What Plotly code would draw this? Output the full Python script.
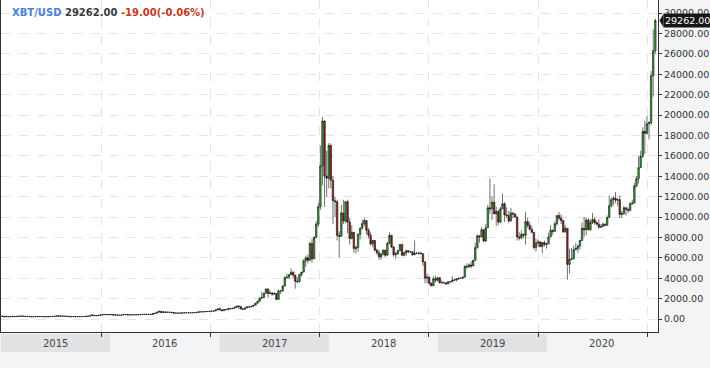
import plotly.graph_objects as go
import pandas as pd

# Weekly candles (open, high, low, close), weeks starting 2014-12-29
ohlc_2015 = [
    (320, 335, 265, 274), (274, 300, 265, 268), (268, 270, 170, 210), (210, 310, 205, 255),
    (255, 270, 210, 225), (225, 245, 212, 225), (225, 265, 218, 257), (257, 260, 230, 245),
    (245, 265, 235, 260), (260, 295, 255, 275), (275, 298, 270, 285), (285, 290, 255, 265),
    (265, 270, 235, 250), (250, 262, 240, 255), (255, 258, 230, 236), (236, 238, 215, 222),
    (222, 236, 218, 226), (226, 245, 220, 240), (240, 246, 232, 240), (240, 245, 230, 237),
    (237, 242, 232, 240), (240, 242, 225, 230), (230, 232, 218, 225), (225, 236, 222, 233),
    (233, 253, 230, 245), (245, 252, 240, 250), (250, 272, 248, 270), (270, 315, 265, 310),
    (310, 316, 270, 275), (275, 292, 272, 290), (290, 297, 276, 280), (280, 285, 260, 265),
    (265, 272, 258, 260), (260, 262, 200, 230), (230, 235, 210, 229), (229, 242, 226, 240),
    (240, 244, 228, 230), (230, 235, 225, 232), (232, 238, 228, 234), (234, 241, 233, 238),
    (238, 248, 235, 246), (246, 265, 245, 262), (262, 290, 260, 285), (285, 335, 283, 325),
    (325, 495, 325, 385), (385, 390, 305, 333), (333, 340, 315, 322), (322, 375, 318, 370),
    (370, 410, 355, 390), (390, 450, 385, 435), (435, 470, 425, 440), (440, 458, 410, 420),
    (420, 440, 415, 430),
]
ohlc_2016 = [
    (430, 458, 425, 448), (448, 455, 365, 385), (385, 410, 375, 400), (400, 405, 370, 378),
    (378, 392, 365, 375), (375, 405, 370, 400), (400, 445, 398, 440), (440, 442, 410, 430),
    (430, 438, 395, 400), (400, 418, 398, 414), (414, 420, 405, 410), (410, 420, 405, 417),
    (417, 424, 412, 418), (418, 424, 415, 420), (420, 432, 418, 430), (430, 462, 428, 458),
    (458, 468, 440, 450), (450, 462, 442, 458), (458, 462, 446, 457), (457, 458, 437, 440),
    (440, 535, 438, 530), (530, 585, 525, 575), (575, 695, 570, 670), (670, 780, 665, 760),
    (760, 765, 560, 630), (630, 705, 605, 700), (700, 705, 630, 650), (650, 675, 645, 665),
    (665, 680, 650, 660), (660, 662, 615, 625), (625, 630, 480, 590), (590, 598, 575, 585),
    (585, 590, 570, 580), (580, 585, 565, 575), (575, 612, 570, 610), (610, 630, 600, 608),
    (608, 615, 602, 610), (610, 612, 596, 603), (603, 618, 600, 615), (615, 622, 608, 618),
    (618, 642, 615, 640), (640, 660, 635, 655), (655, 720, 650, 700), (700, 740, 680, 705),
    (705, 725, 700, 705), (705, 755, 700, 730), (730, 745, 725, 735), (735, 770, 730, 765),
    (765, 775, 755, 770), (770, 795, 765, 790), (790, 905, 790, 890), (890, 1000, 885, 995),
]
ohlc_2017 = [
    (995, 1150, 880, 900), (900, 910, 750, 820), (820, 930, 815, 920), (920, 930, 880, 918),
    (918, 1030, 915, 1020), (1020, 1075, 950, 1000), (1000, 1060, 990, 1050), (1050, 1180, 1045, 1150),
    (1150, 1290, 1140, 1265), (1265, 1330, 980, 1230), (1230, 1260, 950, 970), (970, 1060, 890, 965),
    (965, 1100, 930, 1090), (1090, 1210, 1080, 1190), (1190, 1210, 1150, 1180), (1180, 1250, 1170, 1240),
    (1240, 1360, 1230, 1350), (1350, 1600, 1340, 1550), (1550, 1800, 1540, 1750), (1750, 2100, 1700, 2050),
    (2050, 2700, 1950, 2100), (2100, 2580, 2050, 2520), (2520, 2990, 2500, 2950), (2950, 2980, 2100, 2500),
    (2500, 2780, 2450, 2550), (2550, 2600, 2300, 2430), (2430, 2650, 2420, 2500), (2500, 2550, 1850, 1920),
    (1920, 2900, 1900, 2750), (2750, 2800, 2450, 2750), (2750, 3300, 2650, 3230), (3230, 4200, 3200, 4050),
    (4050, 4450, 3950, 4100), (4100, 4400, 3900, 4350), (4350, 4950, 4300, 4580), (4580, 4700, 4000, 4300),
    (4300, 4350, 2970, 3700), (3700, 4100, 3500, 3650), (3650, 4400, 3600, 4370), (4370, 4620, 4150, 4600),
    (4600, 5850, 4600, 5700), (5700, 6200, 5100, 6000), (6000, 6300, 5450, 5750), (5750, 7600, 5750, 7400),
    (7400, 7850, 5500, 5900), (5900, 8100, 5850, 8000), (8000, 9600, 7950, 9300), (9300, 11400, 9000, 11000),
    (11000, 17000, 10700, 15000), (15000, 19800, 13100, 19400), (19400, 19500, 11000, 14000),
    (14000, 16500, 12000, 13800),
]
ohlc_2018 = [
    (13800, 17250, 12800, 17000), (17000, 17200, 12800, 13600), (13600, 14000, 9300, 11600),
    (11600, 12000, 10000, 11500), (11500, 11700, 7700, 8200), (8200, 8600, 6000, 8100),
    (8100, 11200, 8100, 10400), (10400, 11700, 9300, 9600), (9600, 11500, 9400, 11500),
    (11500, 11700, 8400, 9500), (9500, 9900, 7300, 7900), (7900, 9200, 7800, 8500),
    (8500, 8500, 6500, 6900), (6900, 7200, 6400, 7000), (7000, 8400, 6600, 8300),
    (8300, 9000, 7800, 8900), (8900, 9750, 8800, 9350), (9350, 9900, 9100, 9650),
    (9650, 9700, 8300, 8700), (8700, 8900, 7900, 8200), (8200, 8500, 7200, 7350),
    (7350, 7750, 7050, 7700), (7700, 7750, 6650, 6750), (6750, 6900, 6300, 6500),
    (6500, 6800, 5800, 6100), (6100, 6500, 5800, 6350), (6350, 6800, 6250, 6750),
    (6750, 6800, 6100, 6250), (6250, 7600, 6250, 7400), (7400, 8500, 7400, 8200),
    (8200, 8250, 6950, 7050), (7050, 7150, 6100, 6300), (6300, 6600, 5900, 6400),
    (6400, 6800, 6300, 6700), (6700, 7300, 6700, 7300), (7300, 7400, 6200, 6250),
    (6250, 6600, 6150, 6500), (6500, 6800, 6200, 6700), (6700, 6700, 6450, 6600),
    (6600, 6650, 6500, 6600), (6600, 6650, 6200, 6300), (6300, 7700, 6300, 6450),
    (6450, 6550, 6400, 6450), (6450, 6500, 6300, 6450), (6450, 6600, 6350, 6400),
    (6400, 6450, 5200, 5600), (5600, 5650, 3500, 4000), (4000, 4400, 3500, 4100),
    (4100, 4200, 3300, 3500), (3500, 3600, 3200, 3250), (3250, 4200, 3250, 3950),
    (3950, 4250, 3600, 3800), (3800, 4100, 3650, 4050),
]
ohlc_2019 = [
    (4050, 4100, 3500, 3550), (3550, 3800, 3500, 3550), (3550, 3650, 3500, 3550), (3550, 3550, 3350, 3450),
    (3450, 3700, 3400, 3650), (3650, 3700, 3550, 3650), (3650, 4200, 3650, 3800), (3800, 3900, 3750, 3820),
    (3820, 3950, 3700, 3930), (3930, 4020, 3850, 4000), (4000, 4050, 3950, 4000), (4000, 4150, 3950, 4100),
    (4100, 5300, 4100, 5150), (5150, 5450, 4950, 5100), (5100, 5450, 5050, 5300), (5300, 5650, 5000, 5200),
    (5200, 5800, 5200, 5750), (5750, 7500, 5700, 7000), (7000, 8300, 6900, 8150), (8150, 8200, 7500, 8050),
    (8050, 9000, 8000, 8750), (8750, 8800, 7500, 7650), (7650, 9300, 7550, 8950), (8950, 11200, 8950, 10900),
    (10900, 13800, 10300, 10800), (10800, 12000, 9700, 11450), (11450, 13200, 10400, 10300),
    (10300, 11000, 9100, 10550), (10550, 10700, 9200, 9500), (9500, 11000, 9400, 10800),
    (10800, 12300, 10800, 11300), (11300, 11450, 9500, 10200), (10200, 10950, 9900, 10150),
    (10150, 10600, 9400, 9600), (9600, 10900, 9600, 10400), (10400, 10450, 9900, 10300),
    (10300, 10350, 9900, 10000), (10000, 10050, 7700, 8050), (8050, 8500, 7700, 7950),
    (7950, 8700, 7800, 8300), (8300, 8400, 7900, 8200), (8200, 10500, 7300, 9550),
    (9550, 9900, 8950, 9200), (9200, 9500, 8700, 8800), (8800, 9100, 8400, 8500),
    (8500, 8500, 6800, 7000), (7000, 7900, 6600, 7450), (7450, 7750, 7100, 7550),
    (7550, 7650, 7050, 7100), (7100, 7500, 6450, 7500), (7500, 7700, 7100, 7300),
    (7300, 7500, 6900, 7350),
]
ohlc_2020 = [
    (7350, 8450, 7350, 8050), (8050, 9200, 8050, 8700), (8700, 8750, 8250, 8600), (8600, 9550, 8550, 9350),
    (9350, 10150, 9150, 10150), (10150, 10500, 9700, 9900), (9900, 10250, 9300, 9650), (9650, 9700, 8450, 8550),
    (8550, 9200, 8450, 8900), (8900, 8900, 3850, 5350), (5350, 6900, 4450, 5850), (5850, 6950, 5800, 5900),
    (5900, 7200, 5850, 6800), (6800, 7450, 6800, 6900), (6900, 7300, 6500, 7150), (7150, 7750, 6800, 7700),
    (7700, 9450, 7650, 8900), (8900, 10000, 8100, 8750), (8750, 9950, 8200, 9700), (9700, 9900, 8700, 8750),
    (8750, 9750, 8650, 9450), (9450, 10400, 9300, 9750), (9750, 10000, 9250, 9450), (9450, 9600, 9200, 9300),
    (9300, 9800, 8850, 9000), (9000, 9300, 8950, 9050), (9050, 9450, 9050, 9300), (9300, 9350, 9100, 9200),
    (9200, 10150, 9150, 9950), (9950, 12100, 9950, 11100), (11100, 11900, 10950, 11700),
    (11700, 12050, 11150, 11850), (11850, 12450, 11350, 11650), (11650, 11800, 11100, 11700),
    (11700, 12100, 9900, 10250), (10250, 10600, 9900, 10350), (10350, 11100, 10200, 10900),
    (10900, 10950, 10150, 10750), (10750, 10950, 10400, 10650), (10650, 11500, 10550, 11300),
    (11300, 11700, 11200, 11350), (11350, 13350, 11350, 13050), (13050, 14000, 12900, 13750),
    (13750, 15950, 13300, 14850), (14850, 16500, 14800, 15950), (15950, 18800, 15800, 18400),
    (18400, 19450, 16200, 18200), (18200, 19900, 18100, 19150), (19150, 19400, 17600, 19250),
    (19250, 24300, 19000, 23850), (23850, 28400, 21800, 26300), (26300, 29450, 26000, 29262),
]

first_week = "2014-12-29"
years = ["2015", "2016", "2017", "2018", "2019", "2020"]
grid_dates = ["2015-12-04", "2016-12-03", "2017-12-02", "2018-12-01", "2019-12-02", "2020-12-01"]
y_ticks = list(range(0, 30001, 2000))
y_ticktext = ["%.2f" % v for v in y_ticks]
last_price = 29262.00
title_symbol = "XBT/USD"
title_price = "29262.00"
title_change = "-19.00(-0.06%)"

rows = ohlc_2015 + ohlc_2016 + ohlc_2017 + ohlc_2018 + ohlc_2019 + ohlc_2020
opens = [r[0] for r in rows]
highs = [r[1] for r in rows]
lows = [r[2] for r in rows]
closes = [r[3] for r in rows]
dates = pd.date_range(first_week, periods=len(rows), freq="7D")

x_start = pd.Timestamp("2015-01-01")
x_end = pd.Timestamp("2021-01-06")
span = (x_end - x_start).total_seconds()


def frac(d):
    return (pd.Timestamp(d) - x_start).total_seconds() / span


fig = go.Figure(go.Candlestick(
    x=dates, open=opens, high=highs, low=lows, close=closes,
    increasing=dict(line=dict(color="#111111", width=0.6), fillcolor="#2bb02b"),
    decreasing=dict(line=dict(color="#111111", width=0.6), fillcolor="#a81e1e"),
    whiskerwidth=0, hoverinfo="skip",
))

W, H = 710, 368
ml, mr, mt, mb = 1, 52, 0, 36
plot_w = W - ml - mr
plot_h = H - mt - mb

shapes = []
annotations = []
for i, yr in enumerate(years):
    x0 = max(0.0, frac(f"{yr}-01-01"))
    x1 = min(1.0, frac(f"{int(yr) + 1}-01-01"))
    if i % 2 == 0:
        shapes.append(dict(type="rect", xref="paper", yref="paper", x0=x0, x1=x1,
                           y0=-2 / plot_h, y1=-20 / plot_h, fillcolor="#e1e2e4",
                           line=dict(width=0), layer="below"))
    annotations.append(dict(xref="paper", yref="paper", x=(x0 + x1) / 2, y=-11 / plot_h,
                            text=yr, showarrow=False, xanchor="center", yanchor="middle",
                            font=dict(family="DejaVu Sans", size=10, color="#444444")))

# last price label
annotations.append(dict(xref="paper", yref="y", x=1, y=last_price, xanchor="left", yanchor="middle",
                        xshift=5, text=f"{last_price:.2f}", showarrow=False,
                        bgcolor="#161616", borderpad=1,
                        font=dict(family="DejaVu Sans", size=9.5, color="white")))
px = 1 / plot_w
shapes.append(dict(type="path", xref="paper", yref="y",
                   path=f"M {1 + 1.5 * px},{last_price} L {1 + 5.5 * px},{last_price + 650} "
                        f"L {1 + 5.5 * px},{last_price - 650} Z",
                   fillcolor="#161616", line=dict(width=0)))

annotations.append(dict(
    xref="paper", yref="paper", x=0, y=1, xanchor="left", yanchor="middle", xshift=9, yshift=-12,
    showarrow=False,
    text=(f"<b><span style='color:#4a7fd6'>{title_symbol}</span> "
          f"<span style='color:#3a3a3a'>{title_price}</span> "
          f"<span style='color:#c63a1e'>{title_change}</span></b>"),
    font=dict(family="DejaVu Sans", size=10),
))

fig.update_layout(
    width=W, height=H,
    margin=dict(l=ml, r=mr, t=mt, b=mb, autoexpand=False),
    paper_bgcolor="#f3f4f6", plot_bgcolor="white",
    showlegend=False, hovermode=False, boxgap=0,
    shapes=shapes, annotations=annotations,
    xaxis=dict(
        type="date", range=[x_start, x_end], rangeslider=dict(visible=False),
        tickvals=grid_dates, showticklabels=False,
        showgrid=True, gridcolor="#e4e4e4", griddash="dash", gridwidth=1,
        ticks="outside", ticklen=4, tickcolor="#333333",
        showline=True, linecolor="#333333", linewidth=1, zeroline=False,
    ),
    yaxis=dict(
        side="right", range=[-1275, 31275],
        tickvals=y_ticks, ticktext=y_ticktext,
        showgrid=True, gridcolor="#e4e4e4", griddash="dash", gridwidth=1,
        ticks="outside", ticklen=3, tickcolor="#333333",
        showline=True, mirror=True, linecolor="#333333", linewidth=1, zeroline=False,
        tickfont=dict(family="DejaVu Sans", size=9.5, color="#333333"),
    ),
)

fig.write_html("out.html", config={"displayModeBar": False},
               post_script="document.body.style.margin='0';document.body.style.overflow='hidden';")
